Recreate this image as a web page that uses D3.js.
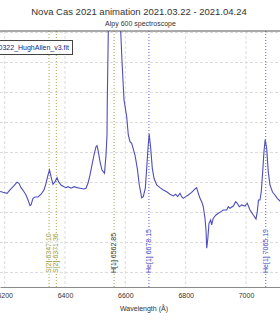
<!DOCTYPE html>
<html><head><meta charset="utf-8">
<script src="https://cdn.jsdelivr.net/npm/d3@7"></script>
<style>html,body{margin:0;padding:0;background:#fff;overflow:hidden}</style>
</head><body><svg id="c" width="280" height="320"></svg>
<script>
// ---- data ----
const wavelengths = [6178,6194.5,6207.8,6217.7,6231.0,6240.9,6247.5,6254.2,6264.1,6270.7,6277.4,6284.0,6287.3,6293.9,6300.6,6310.5,6320.5,6330.4,6337.0,6343.7,6348.6,6353.6,6360.2,6366.9,6373.5,6378.5,6386.7,6396.7,6403.3,6409.9,6419.9,6429.8,6439.8,6449.7,6463.0,6469.6,6476.2,6482.9,6489.5,6496.1,6502.7,6506.1,6509.4,6516.0,6522.6,6530.9,6535.9,6539.2,6540.2,6543.5,6549.2,6559.1,6569.0,6579.0,6584.6,6588.9,6595.6,6604.5,6609.8,6615.4,6621.1,6632.0,6639.6,6646.3,6654.2,6659.5,6666.2,6670.8,6675.1,6679.1,6684.1,6689.4,6695.0,6703.9,6714.9,6725.8,6737.1,6748.0,6759.0,6766.9,6773.5,6781.2,6786.8,6792.1,6800.0,6808.7,6819.9,6830.9,6836.5,6841.8,6847.5,6853.1,6858.4,6864.0,6867.4,6869.7,6873.0,6877.3,6882.9,6886.2,6891.5,6900.5,6908.1,6917.1,6924.7,6935.9,6941.3,6946.9,6957.8,6965.8,6971.1,6977.7,6985.7,6996.6,7004.2,7013.2,7024.1,7033.1,7037.4,7041.4,7046.3,7050.6,7055.3,7059.6,7063.6,7068.5,7073.8,7079.5,7088.4,7096.0,7103.7,7112.6,7122.5];
const fluxValues = [0.929,0.918,0.910,0.938,0.973,1.002,0.993,0.957,0.923,0.896,0.854,0.807,0.813,0.868,0.879,0.879,0.902,0.938,0.993,1.063,1.104,1.048,0.985,1.007,1.040,1.007,0.979,0.965,0.957,0.965,0.952,0.965,0.957,0.952,0.946,0.952,0.993,1.063,1.146,1.229,1.298,1.307,1.271,1.173,1.104,1.077,1.229,1.396,1.688,2.263,3.02,4.19,3.77,2.69,2.263,2.013,1.688,1.548,1.396,1.340,1.327,1.229,1.118,0.979,0.873,0.882,0.952,1.118,1.285,1.404,1.285,1.118,1.035,0.979,0.957,0.938,0.923,0.902,0.888,0.902,0.882,0.910,0.882,0.868,0.882,0.896,0.918,0.946,0.957,0.910,0.868,0.840,0.798,0.702,0.604,0.452,0.521,0.660,0.688,0.646,0.702,0.729,0.743,0.757,0.771,0.771,0.798,0.785,0.804,0.840,0.827,0.798,0.813,0.804,0.827,0.771,0.729,0.696,0.757,0.854,0.854,0.923,1.090,1.257,1.358,1.285,1.090,0.979,0.918,0.896,0.868,0.846,0.829];
const lineLabels = ["S[2] 6347.10","S[2] 6371.36","H[1] 6562.85","He[1] 6678.15","He[1] 7065.19"];
const lineWavelengths = [6347.10,6371.36,6562.85,6678.15,7065.19];
const lineKinds = ["S","S","H","He","He"];
const xTicks = [6200,6400,6600,6800,7000];
const yGrid = [0.25,0.5,0.75,1.0,1.25,1.5,1.75,2.0,2.25];
const xDomain = [6184.5,7112.7];
const yDomain = [0.129,2.2625];
const titleText = "Nova Cas 2021 animation 2021.03.22 - 2021.04.24";
const subtitleText = "Alpy 600 spectroscope";
const legendText = "20210322_HughAllen_v3.fit";
const xLabel = "Wavelength (Å)";

// ---- drawing ----
const svg = d3.select("#c");
const font = "'Liberation Sans', Arial, sans-serif";
const L = 0, R = 280, T = 31, B = 287;
const x = d3.scaleLinear().domain(xDomain).range([L, R]);
const y = d3.scaleLinear().domain(yDomain).range([B, T]);

svg.append("defs").append("clipPath").attr("id","clip")
  .append("rect").attr("x",L).attr("y",T).attr("width",R-L).attr("height",B-T);

// grid
svg.append("g").selectAll("line").data(yGrid).join("line")
  .attr("x1",L).attr("x2",R).attr("y1",d=>y(d)).attr("y2",d=>y(d))
  .attr("stroke","#dcdcdc").attr("stroke-dasharray","3,2").attr("stroke-width",1);
svg.append("g").selectAll("line").data(xTicks).join("line")
  .attr("x1",d=>x(d)).attr("x2",d=>x(d)).attr("y1",T).attr("y2",B)
  .attr("stroke","#dcdcdc").attr("stroke-dasharray","3,2").attr("stroke-width",1);

// identification lines
const lineColor = {S:"#b4b46e", H:"#b4b46e", He:"#7a7ae0"};
const textColor = {S:"#98983e", H:"#24301c", He:"#3c3cc0"};
const ids = lineLabels.map((t,i)=>({t, w:lineWavelengths[i], k:lineKinds[i]}));
svg.append("g").selectAll("line").data(ids).join("line")
  .attr("x1",d=>x(d.w)).attr("x2",d=>x(d.w)).attr("y1",T).attr("y2",B)
  .attr("stroke",d=>lineColor[d.k]).attr("stroke-width",1.2).attr("stroke-dasharray","1,2");

// spectrum
const pts = wavelengths.map((w,i)=>[w, fluxValues[i]]);
svg.append("path").attr("clip-path","url(#clip)")
  .attr("d", d3.line().x(d=>x(d[0])).y(d=>y(d[1]))(pts))
  .attr("fill","none").attr("stroke","#4e4ebc").attr("stroke-width",1.1);

// labels for identification lines
svg.append("g").selectAll("text").data(ids).join("text")
  .attr("transform",d=>`translate(${x(d.w)+2},273) rotate(-90)`)
  .attr("font-family",font).attr("font-size",7)
  .attr("fill",d=>textColor[d.k])
  .attr("stroke","#fff").attr("stroke-width",1.5).attr("paint-order","stroke")
  .text(d=>d.t);

// frame / axis
svg.append("line").attr("x1",L).attr("x2",R).attr("y1",T).attr("y2",T)
  .attr("stroke","#555").attr("stroke-width",1);
const ax = svg.append("g").attr("transform",`translate(0,${B})`)
  .call(d3.axisBottom(x).tickValues(xTicks).tickSize(0).tickPadding(6).tickFormat(d3.format("d")));
ax.select(".domain").attr("stroke","#8a8a8a");
ax.selectAll("text").attr("font-family",font).attr("font-size",7).attr("fill","#333");

svg.append("text").attr("x",144).attr("y",310.5).attr("text-anchor","middle")
  .attr("font-family",font).attr("font-size",7).attr("fill","#333").text(xLabel);

// titles
svg.append("text").attr("x",139).attr("y",14.5).attr("text-anchor","middle")
  .attr("font-family",font).attr("font-size",9.5).attr("fill","#333").text(titleText);
svg.append("text").attr("x",140.5).attr("y",25.5).attr("text-anchor","middle")
  .attr("font-family",font).attr("font-size",7).attr("fill","#333").text(subtitleText);

// legend
svg.append("rect").attr("x",-60).attr("y",40.5).attr("width",132.5).attr("height",14)
  .attr("fill","#fff").attr("stroke","#444").attr("stroke-width",1);
svg.append("text").attr("x",69).attr("y",50).attr("text-anchor","end")
  .attr("font-family",font).attr("font-size",7).attr("fill","#24247a").text(legendText);
</script>
</body></html>
